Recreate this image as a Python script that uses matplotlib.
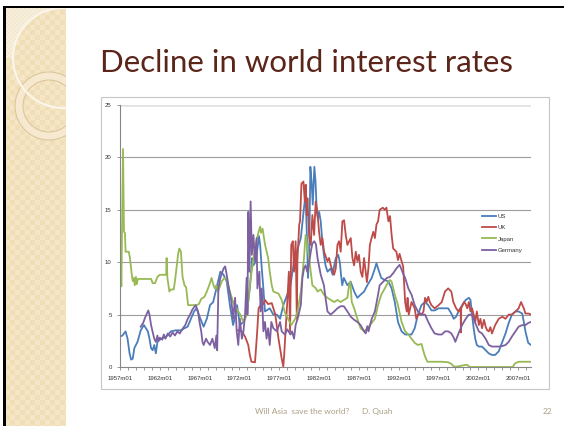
import numpy as np
import matplotlib
matplotlib.use("Agg")
import matplotlib.pyplot as plt
from matplotlib.patches import Circle, Rectangle

# ── short-term interest rates, % (time in decimal years) ──
us_year = [1957.0, 1957.3, 1957.7, 1957.95, 1958.2, 1958.4, 1958.6, 1958.8, 1959.2, 1959.6,
           1960.0, 1960.5, 1960.7, 1960.9, 1961.1, 1961.3, 1961.5, 1961.7, 1962.15, 1962.8,
           1963.4, 1964.0, 1964.65, 1965.1, 1965.5, 1965.9, 1966.3, 1966.6, 1966.9, 1967.3,
           1967.5, 1967.9, 1968.3, 1968.7, 1969.1, 1969.6, 1970.0, 1970.4, 1970.8, 1971.2,
           1971.4, 1971.7, 1972.05, 1972.5, 1972.9, 1973.3, 1973.6, 1973.75, 1974.0, 1974.2,
           1974.45, 1974.6, 1974.8, 1975.0, 1975.2, 1975.8, 1976.25, 1976.7, 1977.1, 1977.5,
           1977.9, 1978.4, 1978.85, 1979.3, 1979.7, 1980.1, 1980.3, 1980.5, 1980.6, 1980.75,
           1980.9, 1981.05, 1981.2, 1981.4, 1981.55, 1981.7, 1981.85, 1982.0, 1982.2, 1982.4,
           1982.6, 1982.8, 1983.05, 1983.45, 1983.7, 1983.9, 1984.1, 1984.4, 1984.6, 1984.75,
           1984.9, 1985.1, 1985.55, 1985.95, 1986.4, 1986.8, 1987.2, 1987.65, 1988.05, 1988.6,
           1989.0, 1989.2, 1989.4, 1989.8, 1990.25, 1990.7, 1991.1, 1991.5, 1991.9, 1992.35,
           1992.8, 1993.6, 1994.0, 1994.4, 1994.85, 1995.3, 1995.7, 1996.1, 1996.5, 1997.0,
           1998.2, 1998.6, 1998.9, 1999.2, 1999.5, 1999.95, 2000.4, 2000.8, 2001.0, 2001.2,
           2001.4, 2001.6, 2001.8, 2002.05, 2002.45, 2002.9, 2003.3, 2003.7, 2004.1, 2004.55,
           2005.0, 2005.4, 2005.8, 2006.2, 2006.65, 2007.05, 2007.5, 2007.7, 2007.9, 2008.25,
           2008.6]
us_rate = [2.9, 3.0, 3.4, 2.7, 1.3, 0.7, 0.8, 1.8, 2.4, 3.5,
           4.0, 3.4, 2.7, 1.8, 1.6, 2.1, 1.3, 2.4, 2.7, 2.9,
           3.4, 3.5, 3.5, 3.7, 3.85, 4.6, 5.3, 5.6, 5.0, 4.2,
           3.85, 4.6, 5.9, 6.2, 7.5, 9.1, 8.8, 8.15, 5.9, 4.0,
           4.6, 5.9, 4.0, 4.3, 5.0, 7.5, 10.4, 9.7, 10.0, 11.0,
           12.5, 11.6, 9.4, 7.5, 5.3, 5.6, 5.0, 5.0, 4.6, 5.9,
           6.7, 7.8, 10.1, 11.3, 12.3, 15.2, 16.4, 11.7, 8.5, 10.7,
           19.1, 17.7, 15.5, 19.1, 17.7, 14.8, 14.2, 14.8, 13.9, 12.0,
           10.7, 9.7, 9.1, 9.4, 8.8, 9.7, 10.4, 10.7, 10.0, 8.8,
           7.8, 8.5, 7.8, 8.15, 7.2, 6.6, 6.9, 7.2, 7.8, 8.5,
           9.4, 9.9, 9.4, 8.5, 8.3, 8.15, 7.5, 6.2, 4.3, 3.4,
           3.1, 3.1, 3.7, 5.0, 5.9, 6.2, 5.9, 5.4, 5.4, 5.6,
           5.6, 5.1, 4.6, 4.8, 5.3, 5.9, 6.4, 6.6, 6.4, 5.0,
           3.7, 2.7, 2.1, 1.95, 1.95, 1.6, 1.3, 1.15, 1.15, 1.5,
           2.4, 3.2, 4.2, 5.0, 5.3, 5.3, 5.1, 4.3, 3.4, 2.3,
           2.1]

uk_year = [1971.8, 1972.3, 1972.7, 1973.1, 1973.3, 1973.5, 1973.95, 1974.2, 1974.4, 1974.8,
           1975.0, 1975.2, 1975.6, 1976.05, 1976.5, 1976.9, 1977.3, 1977.5, 1977.62, 1977.78,
           1978.0, 1978.2, 1978.35, 1978.5, 1978.7, 1978.85, 1979.05, 1979.2, 1979.27, 1979.5,
           1979.6, 1979.78, 1980.03, 1980.2, 1980.32, 1980.45, 1980.53, 1980.74, 1980.95, 1981.15,
           1981.37, 1981.57, 1981.7, 1981.78, 1981.99, 1982.2, 1982.41, 1982.62, 1983.04, 1983.25,
           1983.46, 1983.88, 1984.09, 1984.3, 1984.5, 1984.71, 1984.92, 1985.13, 1985.34, 1985.55,
           1985.76, 1985.97, 1986.18, 1986.39, 1986.6, 1986.8, 1987.0, 1987.22, 1987.43, 1987.64,
           1987.85, 1988.0, 1988.2, 1988.37, 1988.58, 1988.8, 1989.0, 1989.2, 1989.4, 1989.6,
           1990.0, 1990.25, 1990.45, 1990.7, 1990.9, 1991.1, 1991.3, 1991.7, 1991.9, 1992.1,
           1992.35, 1992.55, 1992.8, 1993.0, 1993.1, 1993.25, 1993.6, 1994.0, 1994.2, 1994.4,
           1994.85, 1995.1, 1995.3, 1995.5, 1995.7, 1995.9, 1996.1, 1996.5, 1997.0, 1997.4,
           1997.8, 1998.2, 1998.6, 1998.85, 1999.2, 1999.5, 1999.76, 1999.8, 1999.84, 2000.2,
           2000.4, 2000.6, 2000.8, 2001.0, 2001.2, 2001.4, 2001.6, 2001.8, 2002.05, 2002.25,
           2002.45, 2002.7, 2002.9, 2003.1, 2003.3, 2003.5, 2003.7, 2004.1, 2004.55, 2005.0,
           2005.4, 2005.8, 2006.2, 2006.65, 2007.05, 2007.35, 2007.7, 2007.9, 2008.3, 2008.6]
uk_rate = [3.5, 3.4, 2.9, 2.1, 1.15, 0.5, 0.45, 3.1, 5.6, 6.1,
           6.0, 6.4, 6.0, 6.1, 5.0, 2.7, 0.8, 0.05, 1.2, 3.4,
           6.2, 9.1, 3.4, 11.65, 12.0, 9.1, 12.0, 4.6, 10.1, 13.6,
           13.9, 17.5, 17.7, 15.8, 17.4, 14.5, 16.1, 12.6, 11.65, 14.5,
           12.6, 15.8, 15.2, 14.8, 12.9, 11.65, 12.3, 11.0, 10.1, 10.4,
           9.7, 8.8, 9.4, 11.65, 12.0, 11.0, 13.9, 14.0, 12.6, 11.65,
           12.0, 12.3, 10.4, 9.7, 11.0, 10.1, 10.7, 9.1, 8.6, 10.4,
           9.1, 8.1, 9.5, 11.65, 12.3, 12.9, 12.3, 13.6, 13.9, 15.0,
           15.2, 15.0, 15.2, 13.9, 14.4, 12.6, 11.3, 11.0, 10.2, 10.8,
           10.1, 9.6, 6.2, 5.3, 6.6, 5.0, 6.2, 5.6, 4.6, 5.0,
           5.0, 5.3, 6.6, 6.2, 6.7, 6.2, 5.9, 5.6, 5.9, 6.2,
           7.2, 7.5, 7.2, 6.2, 5.6, 5.3, 5.6, 3.3, 5.6, 6.2,
           6.0, 5.6, 6.2, 5.3, 5.6, 5.0, 4.3, 5.3, 4.0, 4.6,
           3.7, 4.5, 3.85, 3.5, 3.4, 3.8, 3.2, 4.0, 4.6, 4.8,
           4.6, 5.0, 5.0, 5.3, 5.6, 6.2, 5.6, 5.1, 5.1, 5.0]

jp_year = [1957.0, 1957.1, 1957.17, 1957.38, 1957.5, 1957.62, 1957.7, 1958.1, 1958.25, 1958.45,
           1958.6, 1958.75, 1958.85, 1959.0, 1959.1, 1959.25, 1960.0, 1960.9, 1961.1, 1961.4,
           1961.7, 1962.0, 1962.8, 1962.85, 1962.95, 1963.2, 1963.4, 1963.75, 1963.95, 1964.3,
           1964.45, 1964.65, 1964.85, 1965.1, 1965.3, 1965.55, 1966.0, 1966.6, 1966.9, 1967.2,
           1967.6, 1967.9, 1968.2, 1968.5, 1968.7, 1968.9, 1969.1, 1969.3, 1969.5, 1969.8,
           1970.1, 1970.4, 1970.8, 1971.2, 1971.6, 1972.1, 1972.5, 1972.8, 1973.0, 1973.3,
           1973.6, 1974.0, 1974.4, 1974.6, 1974.7, 1974.9, 1975.2, 1975.6, 1975.8, 1976.05,
           1976.25, 1976.9, 1977.3, 1977.7, 1978.1, 1978.5, 1979.0, 1979.3, 1979.7, 1980.1,
           1980.3, 1980.5, 1980.85, 1981.15, 1981.6, 1981.8, 1982.2, 1982.6, 1983.05, 1983.45,
           1983.9, 1984.3, 1984.7, 1985.1, 1985.55, 1985.75, 1985.9, 1986.1, 1986.4, 1986.8,
           1987.2, 1987.65, 1988.05, 1988.6, 1989.0, 1989.4, 1989.8, 1990.25, 1990.7, 1990.9,
           1991.1, 1991.5, 1991.9, 1992.35, 1992.8, 1993.2, 1993.6, 1994.0, 1994.4, 1994.85,
           1995.1, 1995.3, 1995.6, 1996.5, 1997.4, 1998.2, 1998.6, 1998.9, 1999.2, 2000.4,
           2000.6, 2000.9, 2006.3, 2006.6, 2007.05, 2008.6]
jp_rate = [8.1, 10.6, 7.7, 20.8, 12.9, 12.8, 11.0, 11.0, 10.4, 9.0,
           8.2, 8.5, 7.8, 8.6, 7.9, 8.4, 8.4, 8.4, 8.0, 8.0,
           8.6, 8.8, 8.8, 10.4, 8.5, 7.2, 7.4, 7.4, 8.5, 10.8,
           11.3, 11.0, 8.6, 7.8, 7.6, 5.9, 5.9, 5.9, 6.0, 6.5,
           6.7, 7.2, 7.8, 8.5, 7.9, 7.5, 7.8, 7.2, 7.6, 8.2,
           8.5, 8.4, 7.2, 6.2, 5.6, 5.0, 4.3, 4.8, 5.5, 7.8,
           9.5, 11.6, 12.9, 13.4, 12.8, 13.2, 11.7, 10.4, 9.1, 7.8,
           7.2, 7.0, 6.4, 5.2, 4.6, 4.0, 4.6, 5.3, 7.2, 10.4,
           12.6, 11.7, 9.7, 7.8, 7.5, 7.2, 7.4, 6.9, 6.6, 6.4,
           6.2, 6.4, 6.2, 6.4, 6.6, 7.8, 8.15, 6.2, 5.6, 4.6,
           3.7, 3.4, 3.7, 4.2, 4.6, 5.9, 6.9, 7.5, 8.15, 8.3,
           8.15, 6.9, 5.9, 4.3, 3.4, 3.1, 2.7, 2.3, 2.1, 2.2,
           1.5, 1.0, 0.5, 0.5, 0.5, 0.45, 0.3, 0.05, 0.03, 0.2,
           0.2, 0.0, 0.0, 0.35, 0.5, 0.5]

de_year = [1959.6, 1959.9, 1960.2, 1960.55, 1960.7, 1960.9, 1961.3, 1961.5, 1961.7, 1961.8,
           1962.0, 1962.3, 1962.5, 1962.7, 1963.0, 1963.3, 1963.6, 1963.9, 1964.2, 1964.5,
           1964.9, 1965.2, 1965.5, 1965.8, 1966.1, 1966.5, 1966.8, 1967.0, 1967.2, 1967.35,
           1967.5, 1967.8, 1968.0, 1968.3, 1968.6, 1968.9, 1969.1, 1969.2, 1969.35, 1969.6,
           1970.0, 1970.2, 1970.4, 1970.6, 1971.0, 1971.2, 1971.45, 1971.65, 1971.85, 1972.05,
           1972.3, 1972.5, 1972.7, 1972.9, 1973.0, 1973.1, 1973.25, 1973.4, 1973.55, 1973.75,
           1973.95, 1974.15, 1974.25, 1974.5, 1974.65, 1974.8, 1975.0, 1975.2, 1975.4, 1975.6,
           1975.8, 1976.0, 1976.25, 1976.7, 1977.1, 1977.3, 1977.7, 1978.0, 1978.4, 1978.6,
           1978.85, 1979.05, 1979.3, 1979.7, 1979.9, 1980.1, 1980.3, 1980.5, 1980.7, 1980.95,
           1981.15, 1981.4, 1981.6, 1981.8, 1982.2, 1982.6, 1982.8, 1983.05, 1983.45, 1983.9,
           1984.3, 1984.7, 1985.1, 1985.55, 1985.97, 1986.4, 1986.8, 1987.2, 1987.65, 1987.85,
           1988.05, 1988.2, 1988.6, 1989.0, 1989.4, 1989.6, 1990.05, 1990.5, 1990.9, 1991.3,
           1991.7, 1992.1, 1992.3, 1992.55, 1992.8, 1993.2, 1993.6, 1994.0, 1994.4, 1994.85,
           1995.3, 1995.7, 1996.1, 1996.5, 1997.0, 1997.4, 1997.8, 1998.2, 1998.6, 1998.9,
           1999.1, 1999.5, 1999.95, 2000.4, 2000.8, 2001.2, 2001.6, 2002.05, 2002.45, 2002.9,
           2003.3, 2003.7, 2004.55, 2005.0, 2005.4, 2005.8, 2006.2, 2006.65, 2007.05, 2007.5,
           2007.9, 2008.25, 2008.6]
de_rate = [3.85, 4.2, 4.8, 5.4, 5.0, 4.0, 2.7, 2.4, 3.0, 2.5,
           2.8, 2.6, 3.1, 2.7, 3.2, 2.9, 3.3, 3.0, 3.4, 3.2,
           3.7, 4.0, 4.6, 5.0, 5.5, 5.9, 5.3, 4.2, 3.4, 2.4,
           2.1, 2.7, 2.4, 2.1, 2.7, 1.8, 3.0, 1.6, 7.5, 8.5,
           9.4, 9.6, 8.8, 7.8, 6.2, 4.6, 6.6, 3.4, 2.1, 4.6,
           2.7, 3.4, 5.0, 8.5, 5.0, 14.8, 9.1, 15.8, 10.7, 12.6,
           10.1, 12.3, 7.5, 9.1, 5.3, 7.5, 3.4, 4.3, 2.7, 3.7,
           2.1, 4.3, 3.7, 3.4, 4.3, 3.4, 3.1, 3.6, 3.1, 3.4,
           2.7, 4.0, 4.6, 5.9, 8.5, 9.4, 9.7, 9.1, 9.7, 11.0,
           11.8, 12.0, 11.7, 10.4, 8.8, 7.8, 6.6, 5.3, 5.0, 5.3,
           5.6, 5.8, 5.8, 5.3, 4.8, 4.5, 4.3, 4.0, 3.4, 3.2,
           3.9, 3.4, 4.6, 5.3, 6.9, 7.8, 8.15, 8.5, 8.6, 8.95,
           9.4, 9.75, 9.4, 8.9, 8.5, 7.5, 6.9, 5.9, 5.3, 5.0,
           5.0, 4.3, 3.7, 3.2, 3.1, 3.1, 3.4, 3.4, 3.2, 2.8,
           2.4, 3.2, 4.0, 4.6, 5.0, 5.0, 4.2, 3.4, 3.2, 2.7,
           2.1, 1.95, 1.95, 2.0, 2.1, 2.4, 2.9, 3.4, 3.85, 4.0,
           4.0, 4.2, 4.3]

series = [("US", us_year, us_rate, "#4a7ebb"),
          ("UK", uk_year, uk_rate, "#be4b48"),
          ("Japan", jp_year, jp_rate, "#98b954"),
          ("Germany", de_year, de_rate, "#7d60a0")]

label_years = list(range(1957, 2008, 5))

W, H = 564, 426
fig = plt.figure(figsize=(W / 100, H / 100), dpi=100)

# ── slide background in pixel coordinates ──
bg = fig.add_axes([0, 0, 1, 1])
bg.axis("off")

sx0, sx1, sy0 = 6, 66, 8
yy, xx = np.mgrid[sy0:H, sx0:sx1]
base = np.array([240, 222, 183]) / 255
light = np.array([244, 230, 198]) / 255
check = (((xx // 5) % 2) ^ ((yy // 5) % 2)).astype(bool)
strip = np.where(check[..., None], light, base)
# pale patch in the top corner
corner = (xx < 55) & (yy < 58) & ((xx - 63) ** 2 + (yy - 58) ** 2 > 50 ** 2)
fine = (((xx // 2) % 2) ^ ((yy // 2) % 2)).astype(bool)
pale = np.where(fine[..., None], np.array([247, 238, 220]) / 255, np.array([243, 232, 210]) / 255)
strip = np.where(corner[..., None], pale, strip)
bg.imshow(strip, extent=(sx0, sx1, H, sy0), interpolation="nearest", aspect="auto", zorder=1)

clip = Rectangle((sx0, sy0), sx1 - sx0, H - sy0, transform=bg.transData)
ring = Circle((49, 106), 30, facecolor="none", edgecolor="#f6e9cf", lw=5.5, zorder=2)
ring_out = Circle((49, 106), 34, facecolor="none", edgecolor="#d9c39a", lw=0.7, zorder=3)
ring_in = Circle((49, 106), 26, facecolor="none", edgecolor="#d9c39a", lw=0.7, zorder=3)
arc = Circle((63, 58), 50, facecolor="none", edgecolor="#fbf5ea", lw=1.6, zorder=3)
for p in (ring, ring_out, ring_in, arc):
    bg.add_patch(p)
    p.set_clip_path(clip)

# slide edge
bg.add_patch(Rectangle((3, 6), 3, H, color="black", lw=0, zorder=4))
bg.add_patch(Rectangle((3, 6), W, 2, color="black", lw=0, zorder=4))

# chart frame
bg.add_patch(Rectangle((101, 97), 448, 292, facecolor="white", edgecolor="#c6c6c6", lw=0.8, zorder=2))

bg.text(100, 72, "Decline in world interest rates", fontsize=22.5, color="#5b2519",
        family="Lato", va="baseline", ha="left", zorder=5)
bg.text(255, 414, "Will Asia  save the world?", fontsize=6, color="#ab9f85",
        family="Lato", va="baseline", ha="left")
bg.text(362, 414, "D. Quah", fontsize=6, color="#ab9f85", family="Lato", va="baseline", ha="left")
bg.text(552, 414, "22", fontsize=6, color="#ab9f85", family="Lato", va="baseline", ha="right")

bg.set_xlim(0, W)
bg.set_ylim(H, 0)

# ── chart ──
ax = fig.add_axes([120 / W, 1 - 367 / H, (531 - 120) / W, (367 - 105) / H])
ax.patch.set_alpha(0)

for name, t, v, c in series:
    ax.plot(t, v, color=c, lw=1.3, label=name, solid_joinstyle="round")

ax.set_xlim(1957.0, 2008.6)
ax.set_ylim(0, 25)
for g in (5, 10, 15, 20):
    ax.axhline(g, color="#9c9c9c", lw=0.8, zorder=0)
ax.axhline(25, color="#e3e3e3", lw=2.0, zorder=0)

ax.set_yticks(range(0, 26, 5))
ax.set_xticks(label_years)
ax.set_xticklabels([f"{y}m01" for y in label_years])
ax.set_xticks(range(1957, 2009), minor=True)
for lab in ax.get_xticklabels() + ax.get_yticklabels():
    lab.set_family("Liberation Sans")
ax.tick_params(axis="x", which="both", direction="out", length=2.5, width=0.6,
               color="#868686", labelsize=4.3, pad=4, labelcolor="#333333")
ax.tick_params(axis="y", direction="out", length=2, width=0.6, color="#868686",
               labelsize=4.3, pad=4, labelcolor="#333333")
for side in ("top", "right"):
    ax.spines[side].set_visible(False)
for side in ("left", "bottom"):
    ax.spines[side].set_color("#868686")
    ax.spines[side].set_linewidth(0.8)

leg = ax.legend(loc="upper left", bbox_to_anchor=(482 / W, 1 - 213.5 / H),
                bbox_transform=fig.transFigure, frameon=False, fontsize=4.3,
                handlelength=2.3, handletextpad=0.3, labelspacing=1.05,
                borderpad=0, borderaxespad=0)
for txt in leg.get_texts():
    txt.set_family("Liberation Sans")
    txt.set_color("#333333")

fig.savefig("out.png", dpi=100)
